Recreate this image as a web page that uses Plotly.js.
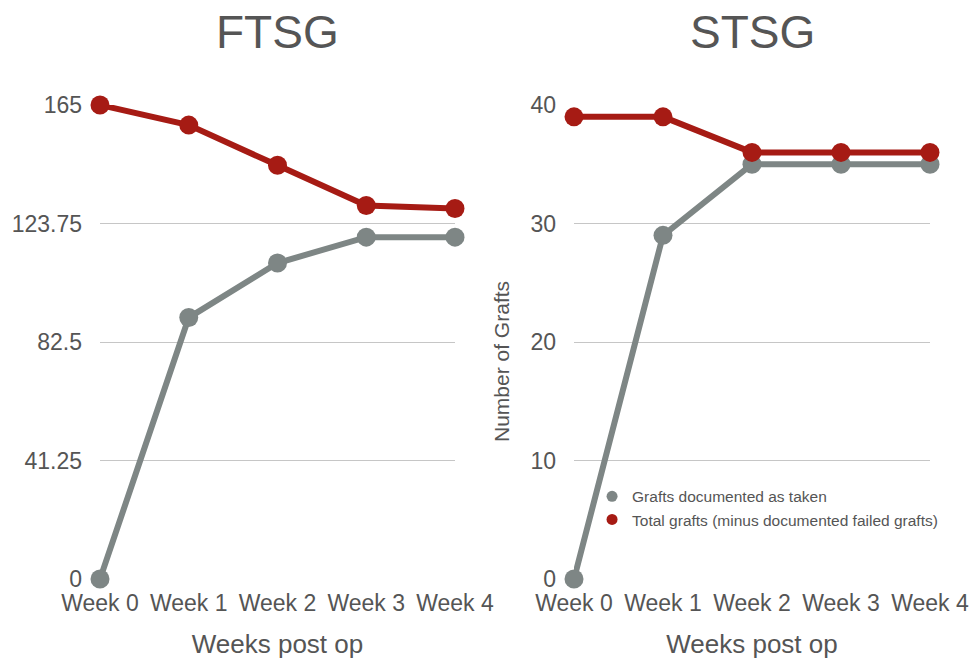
<!DOCTYPE html>
<html>
<head>
<meta charset="utf-8">
<script src="https://cdn.plot.ly/plotly-3.0.1.min.js"></script>
<style>html,body{margin:0;padding:0;background:#fff;}#chart{width:969px;height:659px;}</style>
</head>
<body>
<div id="chart"></div>
<script>
const weeks = ["Week 0", "Week 1", "Week 2", "Week 3", "Week 4"];
const ftsgTaken = [0, 91, 110, 119, 119];
const ftsgTotal = [165, 158, 144, 130, 129];
const stsgTaken = [0, 29, 35, 35, 35];
const stsgTotal = [39, 39, 36, 36, 36];
const ftsgTicks = [0, 41.25, 82.5, 123.75, 165];
const stsgTicks = [0, 10, 20, 30, 40];
const seriesNames = ["Grafts documented as taken", "Total grafts (minus documented failed grafts)"];

const GREY = "#7e8685";
const RED = "#a61b14";
const TXT = "#555555";
const SANS = "Liberation Sans, Arial, sans-serif";

function lineTrace(x, y, color, xa, ya) {
  return {
    x: x, y: y, xaxis: xa, yaxis: ya, type: "scatter", mode: "lines+markers",
    line: {color: color, width: 6}, marker: {color: color, size: 19},
    cliponaxis: false, showlegend: false, hoverinfo: "x+y"
  };
}

const data = [
  lineTrace(weeks, ftsgTaken, GREY, "x", "y"),
  lineTrace(weeks, ftsgTotal, RED, "x", "y"),
  lineTrace(weeks, stsgTaken, GREY, "x2", "y2"),
  lineTrace(weeks, stsgTotal, RED, "x2", "y2"),
  {x: [null], y: [null], xaxis: "x2", yaxis: "y2", type: "scatter", mode: "markers",
   name: seriesNames[0], marker: {color: GREY, size: 11}, showlegend: true},
  {x: [null], y: [null], xaxis: "x2", yaxis: "y2", type: "scatter", mode: "markers",
   name: seriesNames[1], marker: {color: RED, size: 11}, showlegend: true}
];

const xBase = {
  type: "category", range: [0, 4], showgrid: false, zeroline: false, showline: false,
  ticks: "", tickangle: 0, tickfont: {family: SANS, size: 23, color: TXT}, ticklabelstandoff: 8,
  fixedrange: true
};
const yBase = {
  showgrid: true, gridcolor: "#c6c6c6", gridwidth: 1, zeroline: false, showline: false,
  ticks: "", tickfont: {family: SANS, size: 23, color: TXT}, ticklabelstandoff: 17,
  tickmode: "array", fixedrange: true
};

const layout = {
  width: 969, height: 659,
  margin: {l: 0, r: 0, t: 0, b: 0},
  paper_bgcolor: "#ffffff", plot_bgcolor: "#ffffff",
  font: {family: SANS, color: TXT},
  showlegend: true,
  legend: {
    x: 0.611, y: 0.272, xanchor: "left", yanchor: "top",
    bgcolor: "rgba(0,0,0,0)", font: {family: SANS, size: 15.5, color: TXT},
    itemclick: false, itemdoubleclick: false
  },
  xaxis: Object.assign({}, xBase, {domain: [100/969, 455/969], anchor: "y",
    title: {text: "Weeks post op", font: {family: SANS, size: 26, color: TXT}, standoff: 22}}),
  yaxis: Object.assign({}, yBase, {domain: [80/659, 554/659], anchor: "x",
    range: [0, 165], tickvals: ftsgTicks, ticktext: ftsgTicks.map(String)}),
  xaxis2: Object.assign({}, xBase, {domain: [574/969, 930/969], anchor: "y2",
    title: {text: "Weeks post op", font: {family: SANS, size: 26, color: TXT}, standoff: 22}}),
  yaxis2: Object.assign({}, yBase, {domain: [80/659, 554/659], anchor: "x2",
    range: [0, 40], tickvals: stsgTicks, ticktext: stsgTicks.map(String)}),
  annotations: [
    {text: "FTSG", xref: "paper", yref: "paper", x: 277.5/969, y: 1 - 32/659,
     xanchor: "center", yanchor: "middle", showarrow: false,
     font: {family: SANS, size: 46, color: TXT}},
    {text: "STSG", xref: "paper", yref: "paper", x: 752/969, y: 1 - 32/659,
     xanchor: "center", yanchor: "middle", showarrow: false,
     font: {family: SANS, size: 46, color: TXT}},
    {text: "Number of Grafts", xref: "paper", yref: "paper", x: 502/969, y: 1 - 362/659,
     xanchor: "center", yanchor: "middle", textangle: -90, showarrow: false,
     font: {family: SANS, size: 21, color: TXT}}
  ]
};

Plotly.newPlot("chart", data, layout, {displayModeBar: false, staticPlot: true});
</script>
</body>
</html>
